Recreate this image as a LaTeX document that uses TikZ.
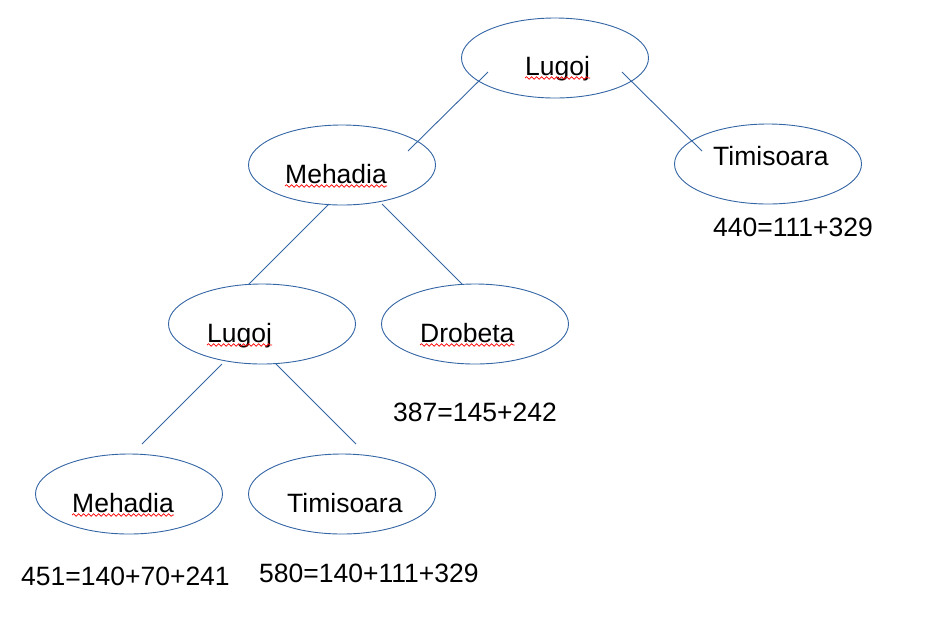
\documentclass[tikz,border=0pt]{standalone}
\usepackage{fontspec}
\setmainfont{Liberation Sans}
\usetikzlibrary{shapes.geometric,decorations.pathmorphing}
\definecolor{lineblue}{HTML}{3465A4}

\begin{document}
\begin{tikzpicture}[x=1pt, y=-1pt,
	city/.style={ellipse, draw=lineblue, line width=0.9pt, minimum width=187pt, minimum height=80pt, inner sep=0pt},
	word/.style={anchor=base west, inner sep=0pt, font=\fontsize{26.5}{31}\selectfont},
	edge/.style={draw=lineblue, line width=0.9pt},
	spell/.style={draw=red, line width=0.7pt, decorate, decoration={snake, amplitude=1.3pt, segment length=5pt}}]
	\useasboundingbox (0,0) rectangle (928,622);
	\draw (555,58) node[city](lug1) {};
	\draw (342,165) node[city](meh1) {};
	\draw (768,164) node[city](tim1) {};
	\draw (262,324) node[city](lug2) {};
	\draw (475,324) node[city](dro1) {};
	\draw (129,494) node[city](meh2) {};
	\draw (342,494) node[city](tim2) {};
	\draw (525,75) node[word](lug1t) {Lugoj};
	\draw (285,183) node[word](meh1t) {Mehadia};
	\draw (713,165) node[word](tim1t) {Timisoara};
	\draw (207,342) node[word](lug2t) {Lugoj};
	\draw (420,342) node[word](dro1t) {Drobeta};
	\draw (72,512) node[word](meh2t) {Mehadia};
	\draw (287,512) node[word](tim2t) {Timisoara};
	\draw (713,236) node[word](cost1) {440=111+329};
	\draw (393,421) node[word](cost2) {387=145+242};
	\draw (21,585) node[word](cost3) {451=140+70+241};
	\draw (259,582) node[word](cost4) {580=140+111+329};
	\draw[edge] ([shift={(-67,14)}]lug1.center) -- ([shift={(66,-14)}]meh1.center);
	\draw[edge] ([shift={(67,14)}]lug1.center) -- ([shift={(-66,-13)}]tim1.center);
	\draw[edge] ([shift={(-13,39)}]meh1.center) -- ([shift={(-13,-40)}]lug2.center);
	\draw[edge] ([shift={(40,39)}]meh1.center) -- ([shift={(-13,-40)}]dro1.center);
	\draw[edge] ([shift={(-40,40)}]lug2.center) -- ([shift={(13,-50)}]meh2.center);
	\draw[edge] ([shift={(14,40)}]lug2.center) -- ([shift={(14,-50)}]tim2.center);
	\draw[spell] ([yshift=-3pt]lug1t.base west) -- ([yshift=-3pt]lug1t.base east);
	\draw[spell] ([yshift=-3pt]meh1t.base west) -- ([yshift=-3pt]meh1t.base east);
	\draw[spell] ([yshift=-3pt]lug2t.base west) -- ([yshift=-3pt]lug2t.base east);
	\draw[spell] ([yshift=-3pt]dro1t.base west) -- ([yshift=-3pt]dro1t.base east);
	\draw[spell] ([yshift=-3pt]meh2t.base west) -- ([yshift=-3pt]meh2t.base east);
\end{tikzpicture}
\end{document}
